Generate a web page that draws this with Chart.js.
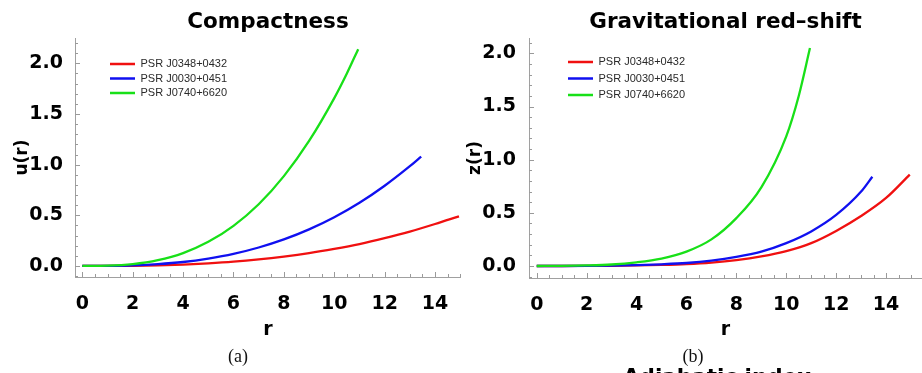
<!DOCTYPE html>
<html>
<head>
<meta charset="utf-8">
<script src="https://cdn.jsdelivr.net/npm/chart.js@4.4.1/dist/chart.umd.min.js"></script>
<style>
  html, body { margin: 0; padding: 0; background: #fff; }
  body { width: 922px; height: 373px; overflow: hidden; position: relative; }
  .panel { position: absolute; top: 0; width: 461px; height: 373px; }
  .caption { position: absolute; transform: translateX(-50%); font-family: "Liberation Serif", "DejaVu Serif", serif; font-size: 18px; line-height: 20px; color: #111; white-space: nowrap; }
  .nextTitle { position: absolute; transform: translateX(-50%); font-family: "DejaVu Sans", sans-serif; font-weight: bold; font-size: 21.5px; line-height: 26px; color: #000; white-space: nowrap; }
</style>
</head>
<body>
<div class="panel" style="left:0"><canvas id="grafica1" width="461" height="373"></canvas></div>
<div class="panel" style="left:461px"><canvas id="grafica2" width="461" height="373"></canvas></div>
<div class="caption" style="left:238px; top:346px">(a)</div>
<div class="caption" style="left:693px; top:346px">(b)</div>
<div class="nextTitle" style="left:717px; top:364px">Adiabatic index</div>

<script>
// Noms de les estrelles (llegenda)
const estrelles = ['PSR J0348+0432', 'PSR J0030+0451', 'PSR J0740+6620'];
const colors = ['#f01010', '#1010f0', '#18e018'];

// Radi r per a cada estrella
const rJ0348 = [0, 1, 2, 3, 4, 5, 6, 7, 8, 9, 10, 11, 12, 13, 14, 14.95];
const rJ0030 = [0, 1, 2, 3, 4, 5, 6, 7, 8, 9, 10, 11, 12, 13, 13.45];
const rJ0740 = [0, 1, 2, 3, 4, 5, 6, 7, 8, 9, 10, 10.5, 10.95];

// Compactness u(r)
const uJ0348 = [0, 0.0003, 0.0022, 0.0066, 0.014, 0.026, 0.042, 0.064, 0.092, 0.126, 0.168, 0.216, 0.274, 0.339, 0.414, 0.49];
const uJ0030 = [0, 0.0009, 0.006, 0.018, 0.039, 0.073, 0.119, 0.182, 0.262, 0.361, 0.481, 0.624, 0.792, 0.985, 1.08];
const uJ0740 = [0, 0.0026, 0.018, 0.057, 0.127, 0.238, 0.396, 0.609, 0.887, 1.234, 1.657, 1.9, 2.14];

// Gravitational red-shift z(r)
const zJ0348 = [0, 0, 0.001, 0.002, 0.005, 0.01, 0.018, 0.032, 0.055, 0.09, 0.14, 0.215, 0.33, 0.47, 0.64, 0.86];
const zJ0030 = [0, 0, 0.001, 0.003, 0.008, 0.016, 0.028, 0.05, 0.085, 0.135, 0.215, 0.325, 0.48, 0.7, 0.84];
const zJ0740 = [0, 0.001, 0.005, 0.014, 0.035, 0.07, 0.135, 0.25, 0.45, 0.74, 1.22, 1.6, 2.05];

// Etiquetes dels eixos
const xTicks = [0, 2, 4, 6, 8, 10, 12, 14];
const yTicks = [0, 0.5, 1.0, 1.5, 2.0];

const fontEixos = { family: 'DejaVu Sans', weight: 'bold', size: 19 };

// Parelles {x, y} per a Chart.js
function punts(rs, vals) {
    return rs.map((r, i) => ({ x: r, y: vals[i] }));
}

// Marques de l'eix cap a dins (majors i menors)
const marquesEixos = {
    id: 'marquesEixos',
    afterDatasetsDraw(chart) {
        const { ctx, chartArea, scales: { x, y } } = chart;
        ctx.save();
        ctx.strokeStyle = '#9a9a9a';
        ctx.lineWidth = 1;
        ctx.beginPath();
        for (let i = Math.ceil(x.min * 2); i <= Math.floor(x.max * 2); i++) {
            const px = Math.round(x.getPixelForValue(i / 2)) + 0.5;
            const len = i % 4 === 0 ? 5 : 3;
            ctx.moveTo(px, chartArea.bottom);
            ctx.lineTo(px, chartArea.bottom - len);
        }
        for (let i = Math.ceil(y.min * 10); i <= Math.floor(y.max * 10); i++) {
            const py = Math.round(y.getPixelForValue(i / 10)) + 0.5;
            const len = i % 5 === 0 ? 5 : 3;
            ctx.moveTo(chartArea.left, py);
            ctx.lineTo(chartArea.left + len, py);
        }
        ctx.stroke();
        ctx.restore();
    }
};

// Mou la llegenda dins l'area del grafic
const llegendaDesplacada = {
    id: 'llegendaDesplacada',
    afterLayout(chart, args, opts) {
        const lg = chart.legend;
        if (!lg) return;
        lg.left += opts.dx; lg.right += opts.dx;
        lg.top += opts.dy; lg.bottom += opts.dy;
    }
};

function crearGrafica(id, titol, etiquetaY, dades, cfg) {
    const ctx = document.getElementById(id).getContext('2d');
    new Chart(ctx, {
        type: 'line',
        data: {
            datasets: dades.map((d, i) => ({
                label: estrelles[i],
                data: d,
                borderColor: colors[i],
                backgroundColor: colors[i],
                borderWidth: 2.3,
                pointRadius: 0,
                fill: false,
                cubicInterpolationMode: 'monotone',
                order: 2 - i
            }))
        },
        plugins: [marquesEixos, llegendaDesplacada],
        options: {
            responsive: false,
            animation: false,
            devicePixelRatio: 1,
            layout: { padding: 0 },
            plugins: {
                tooltip: { enabled: false },
                title: {
                    display: true,
                    text: titol,
                    fullSize: false,
                    color: '#000',
                    font: { family: 'DejaVu Sans', weight: 'bold', size: 21.5 },
                    padding: { top: 10, bottom: 2.2 }
                },
                legend: {
                    position: 'chartArea',
                    align: 'start',
                    labels: {
                        usePointStyle: true,
                        pointStyle: 'line',
                        pointStyleWidth: 25,
                        padding: cfg.legendPad,
                        color: '#2a2a2a',
                        font: { family: 'Liberation Sans', size: 11 },
                        sort: (a, b) => a.datasetIndex - b.datasetIndex
                    }
                },
                llegendaDesplacada: { dx: cfg.legendDx, dy: cfg.legendDy }
            },
            scales: {
                x: {
                    type: 'linear',
                    min: cfg.xMin,
                    max: cfg.xMax,
                    grid: { display: false },
                    border: { display: true, color: '#a0a0a0', width: 1 },
                    afterBuildTicks: s => { s.ticks = xTicks.map(v => ({ value: v })); },
                    afterFit: s => { s.height = cfg.xAxisH; },
                    ticks: {
                        color: '#000',
                        font: fontEixos,
                        padding: 8,
                        autoSkip: false,
                        maxRotation: 0,
                        callback: v => String(v)
                    },
                    title: {
                        display: true,
                        text: 'r',
                        color: '#000',
                        font: { family: 'DejaVu Sans', weight: 'bold', size: 19 },
                        padding: { top: 0, bottom: 32 }
                    }
                },
                y: {
                    type: 'linear',
                    min: cfg.yMin,
                    max: cfg.yMax,
                    grid: { display: false },
                    border: { display: true, color: '#a0a0a0', width: 1 },
                    afterBuildTicks: s => { s.ticks = yTicks.map(v => ({ value: v })); },
                    afterFit: s => { s.width = cfg.yAxisW; },
                    ticks: {
                        color: '#000',
                        font: fontEixos,
                        padding: cfg.yTickPad,
                        callback: v => v.toFixed(1)
                    },
                    title: {
                        display: true,
                        text: etiquetaY,
                        color: '#000',
                        font: { family: 'DejaVu Sans', weight: 'bold', size: 17 },
                        padding: { top: cfg.yTitlePad, bottom: 0 }
                    }
                }
            }
        }
    });
}

// Grafica (a): Compactness
crearGrafica('grafica1', 'Compactness', 'u(r)',
    [punts(rJ0348, uJ0348), punts(rJ0030, uJ0030), punts(rJ0740, uJ0740)],
    { xMin: -0.29, xMax: 15.03, yMin: -0.109, yMax: 2.25, xAxisH: 96, yAxisW: 75,
      yTickPad: 4, yTitlePad: 12, legendPad: 3.5, legendDx: 31.5, legendDy: 55 });

// Grafica (b): Gravitational red-shift
crearGrafica('grafica2', 'Gravitational red\u2013shift', 'z(r)',
    [punts(rJ0348, zJ0348), punts(rJ0030, zJ0030), punts(rJ0740, zJ0740)],
    { xMin: -0.31, xMax: 15.44, yMin: -0.113, yMax: 2.145, xAxisH: 95, yAxisW: 68,
      yTickPad: 5, yTitlePad: 4, legendPad: 5.5, legendDx: 33.5, legendDy: 51 });
</script>
</body>
</html>
